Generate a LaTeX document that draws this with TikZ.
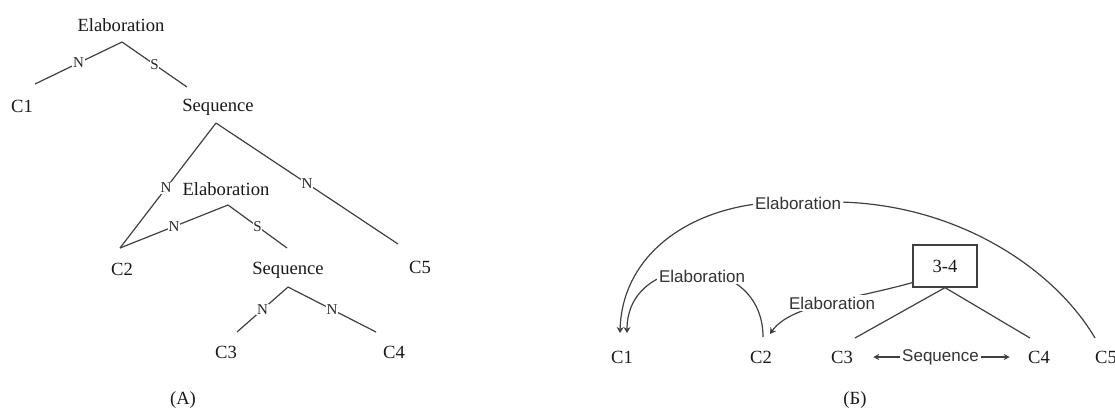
\documentclass[tikz,border=0pt]{standalone}
\usepackage{fontspec}
\setmainfont{Liberation Serif}
\newfontfamily\lsans{Liberation Sans}
\usetikzlibrary{arrows.meta}
\begin{document}
\begin{tikzpicture}[x=0.5pt,y=-0.5pt,
  lbl/.style={font=\fontsize{9.3}{11}\selectfont, text=black!90, inner sep=1pt},
  ns/.style={font=\fontsize{7.5}{9}\selectfont, text=black!85, fill=white, inner sep=0.3pt},
  edge/.style={draw=black!75, line width=0.6pt},
  slbl/.style={font=\lsans\fontsize{8.5}{10}\selectfont, text=black!80, fill=white, inner sep=1pt},
  arr/.style={edge, -{Stealth[length=3pt,width=3.5pt]}},
  dblarr/.style={edge, {Stealth[length=3pt,width=3pt]}-{Stealth[length=3pt,width=3pt]}},
  box34/.style={draw=black!75, line width=0.6pt, minimum width=32pt, minimum height=21pt, inner sep=0pt, font=\fontsize{9.3}{11}\selectfont, text=black!90}
]
\useasboundingbox (0,0) rectangle (1115,414);

% ---------- (A) tree ----------
\node[lbl] (e1) at (121,25) {Elaboration};
\coordinate (e1a) at (122,42);
\coordinate (c1t) at (35,84);
\node[lbl] (c1) at (22,106) {C1};
\coordinate (s1t) at (187,87);
\node[lbl] (s1) at (218,107) {Sequence};
\coordinate (s1a) at (216,123);
\coordinate (c2t) at (120,248);
\coordinate (c5t) at (398,244);
\node[lbl] (e2) at (226,189) {Elaboration};
\coordinate (e2a) at (228,205);
\coordinate (s2t) at (287,248);
\node[lbl] (c2) at (122,269) {C2};
\node[lbl] (s2) at (288,270) {Sequence};
\coordinate (s2a) at (288,287);
\node[lbl] (c5) at (420,267) {C5};
\coordinate (c3t) at (237,332);
\coordinate (c4t) at (376,332);
\node[lbl] (c3) at (226,352) {C3};
\node[lbl] (c4) at (394,352) {C4};
\node[lbl] (capA) at (183,400) {(A)};

\draw[edge] (e1a) -- node[ns]{N} (c1t);
\draw[edge] (e1a) -- node[ns]{S} (s1t);
\draw[edge] (s1a) -- node[ns, pos=0.52]{N} (c2t);
\draw[edge] (s1a) -- node[ns]{N} (c5t);
\draw[edge] (e2a) -- node[ns]{N} (c2t);
\draw[edge] (e2a) -- node[ns]{S} (s2t);
\draw[edge] (s2a) -- node[ns]{N} (c3t);
\draw[edge] (s2a) -- node[ns]{N} (c4t);

% ---------- (B) graph ----------
\node[lbl] (r1) at (622,357) {C1};
\node[lbl] (r2) at (761,357) {C2};
\node[lbl] (r3) at (842,357) {C3};
\node[lbl] (r4) at (1039,357) {C4};
\node[lbl] (r5) at (1106,357) {C5};
\node[box34] (b34) at (945,266) {3-4};
\node[lbl] (capB) at (855,400) {(Б)};

\coordinate (r1a) at (620,333);
\coordinate (r1b) at (627,333);
\coordinate (r2a) at (763,337);
\coordinate (r2b) at (770,334);
\coordinate (r3t) at (855,338);
\coordinate (r4t) at (1030,338);
\coordinate (r5t) at (1095,338);

\draw[edge] (b34.south) -- (r3t);
\draw[edge] (b34.south) -- (r4t);

% big arc C5 -> C1
\draw[arr] (r5t) .. controls (1055,270) and (960,205) .. (840,202)
  -- (756,204) .. controls (680,214) and (622,260) .. (r1a);
\node[slbl] (lbig) at (798,203) {Elaboration};

% C2 -> C1
\draw[arr] (r2a) .. controls (763,250) and (627,250) .. (r1b);
\node[slbl] (lmid) at (702,276) {Elaboration};

% 3-4 -> C2
\draw[arr] ([yshift=2.5pt]b34.south west) .. controls (850,300) and (790,305) .. (r2b);
\node[slbl] (lbox) at (832,303) {Elaboration};

% Sequence
\draw[dblarr, shorten <=9pt, shorten >=8pt] (r3.east) -- node[slbl]{Sequence} (r4.west);

\end{tikzpicture}
\end{document}
